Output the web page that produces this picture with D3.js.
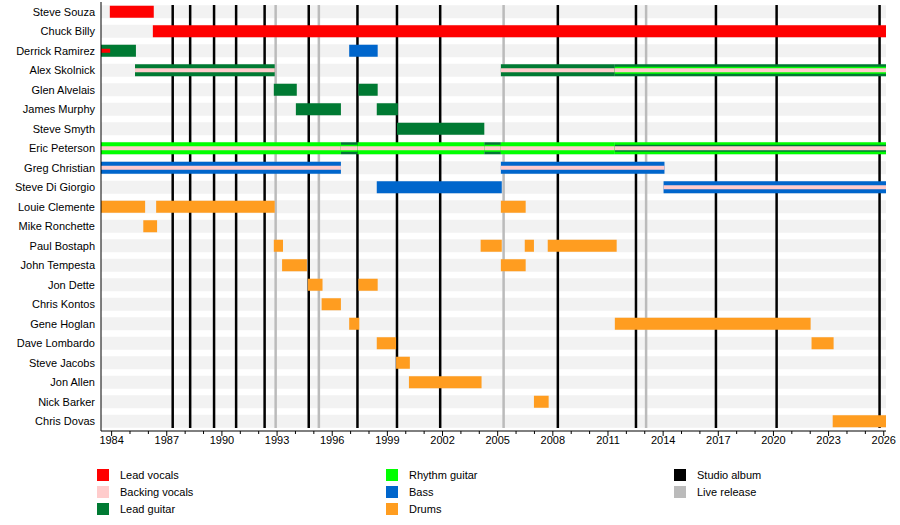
<!DOCTYPE html>
<html><head><meta charset="utf-8">
<script src="https://cdn.jsdelivr.net/npm/d3@7/dist/d3.min.js"></script>
<style>body{margin:0;background:#fff}svg{font-family:"Liberation Sans",Arial,sans-serif}</style>
</head><body><svg id="c" width="900" height="525"></svg>
<script>
const members = ["Steve Souza","Chuck Billy","Derrick Ramirez","Alex Skolnick","Glen Alvelais","James Murphy","Steve Smyth","Eric Peterson","Greg Christian","Steve Di Giorgio","Louie Clemente","Mike Ronchette","Paul Bostaph","John Tempesta","Jon Dette","Chris Kontos","Gene Hoglan","Dave Lombardo","Steve Jacobs","Jon Allen","Nick Barker","Chris Dovas"];
const END = 2026.15;
// [member, start, end, outerRole, midRole, centerRole]
const spans = [
 ["Steve Souza",1983.93,1986.32,"lv",null,null],
 ["Chuck Billy",1986.27,END,"lv",null,null],
 ["Derrick Ramirez",1983.45,1985.35,"lg",null,"lv"],
 ["Derrick Ramirez",1996.95,1998.5,"bass",null,null],
 ["Alex Skolnick",1985.3,1992.9,"lg",null,"bv"],
 ["Alex Skolnick",2005.2,2011.4,"lg",null,"bv"],
 ["Alex Skolnick",2011.4,END,"lg","rg","bv"],
 ["Glen Alvelais",1992.85,1994.1,"lg",null,null],
 ["Glen Alvelais",1997.45,1998.5,"lg",null,null],
 ["James Murphy",1994.05,1996.5,"lg",null,null],
 ["James Murphy",1998.45,1999.6,"lg",null,null],
 ["Steve Smyth",1999.55,2004.3,"lg",null,null],
 ["Eric Peterson",1983.45,1996.5,"rg",null,"bv"],
 ["Eric Peterson",1996.5,1997.4,"lg","rg","bv"],
 ["Eric Peterson",1997.4,2004.3,"rg",null,"bv"],
 ["Eric Peterson",2004.3,2005.2,"lg","rg","bv"],
 ["Eric Peterson",2005.2,2011.4,"rg",null,"bv"],
 ["Eric Peterson",2011.4,END,"rg","lg","bv"],
 ["Greg Christian",1983.45,1996.5,"bass",null,"bv"],
 ["Greg Christian",2005.2,2014.1,"bass",null,"bv"],
 ["Steve Di Giorgio",1998.45,2005.25,"bass",null,null],
 ["Steve Di Giorgio",2014.05,END,"bass",null,"bv"],
 ["Louie Clemente",1983.45,1985.85,"dr",null,null],
 ["Louie Clemente",1986.45,1992.9,"dr",null,null],
 ["Louie Clemente",2005.2,2006.55,"dr",null,null],
 ["Mike Ronchette",1985.75,1986.5,"dr",null,null],
 ["Paul Bostaph",1992.85,1993.35,"dr",null,null],
 ["Paul Bostaph",2004.1,2005.25,"dr",null,null],
 ["Paul Bostaph",2006.5,2007.0,"dr",null,null],
 ["Paul Bostaph",2007.75,2011.5,"dr",null,null],
 ["John Tempesta",1993.3,1994.65,"dr",null,null],
 ["John Tempesta",2005.2,2006.55,"dr",null,null],
 ["Jon Dette",1994.7,1995.5,"dr",null,null],
 ["Jon Dette",1997.45,1998.5,"dr",null,null],
 ["Chris Kontos",1995.45,1996.5,"dr",null,null],
 ["Gene Hoglan",1996.95,1997.5,"dr",null,null],
 ["Gene Hoglan",2011.4,2022.05,"dr",null,null],
 ["Dave Lombardo",1998.45,1999.5,"dr",null,null],
 ["Dave Lombardo",2022.1,2023.3,"dr",null,null],
 ["Steve Jacobs",1999.5,2000.25,"dr",null,null],
 ["Jon Allen",2000.2,2004.15,"dr",null,null],
 ["Nick Barker",2007.0,2007.8,"dr",null,null],
 ["Chris Dovas",2023.25,END,"dr",null,null]
];
const studioAlbums = [1987.35,1988.3,1989.6,1990.8,1992.35,1994.75,1997.4,1999.55,2001.9,2008.3,2012.55,2016.9,2020.2,2025.8];
const liveReleases = [1992.95,1995.3,2005.35,2013.1];
const tickYears = d3.range(1984,2027,3);
const roles = [["lv","Lead vocals","#ff0000"],["bv","Backing vocals","#ffcccc"],["lg","Lead guitar","#007a33"],["rg","Rhythm guitar","#00ff00"],["bass","Bass","#0066cc"],["dr","Drums","#ff9d20"],["studio","Studio album","#000000"],["live","Live release","#bbbbbb"]];
const col = Object.fromEntries(roles.map(r=>[r[0],r[2]]));

const svg = d3.select("#c");
const x = d3.scaleLinear().domain([1983.45,END]).range([101,886]);
const y = d3.scaleBand().domain(members).range([2,431]).paddingInner(0);
const cy = m => y(m)+y.bandwidth()/2;

// row stripes
svg.append("g").selectAll("rect").data(members).join("rect")
 .attr("x",101).attr("width",785).attr("y",m=>cy(m)-6.5).attr("height",13).attr("fill","#f2f2f2");

// release lines
svg.append("g").selectAll("line").data(liveReleases).join("line")
 .attr("x1",x).attr("x2",x).attr("y1",5).attr("y2",428).attr("stroke","#bbbbbb").attr("stroke-width",2.5);
svg.append("g").selectAll("line").data(studioAlbums).join("line")
 .attr("x1",x).attr("x2",x).attr("y1",5).attr("y2",428).attr("stroke","#000").attr("stroke-width",2.5);

// bars
const g = svg.append("g");
spans.forEach(([m,s,e,o,mid,c])=>{
  const yc = cy(m);
  g.append("rect").attr("x",x(s)).attr("width",x(e)-x(s)).attr("y",yc-6).attr("height",12).attr("fill",col[o]);
  if(mid) g.append("rect").attr("x",x(s)).attr("width",x(e)-x(s)).attr("y",yc-3.5).attr("height",7).attr("fill",col[mid]);
  if(c){
    if(m==="Derrick Ramirez") g.append("rect").attr("x",x(s)).attr("width",x(1983.95)-x(s)).attr("y",yc-2).attr("height",4).attr("fill",col[c]);
    else g.append("rect").attr("x",x(s)).attr("width",x(e)-x(s)).attr("y",yc-2).attr("height",4).attr("fill",col[c]);
  }
});

// axes
svg.append("line").attr("x1",101).attr("x2",101).attr("y1",2).attr("y2",431).attr("stroke","#000");
svg.append("line").attr("x1",101).attr("x2",886).attr("y1",431).attr("y2",431).attr("stroke","#000");
const ax = svg.append("g").attr("transform","translate(0,431)")
 .call(d3.axisBottom(x).tickValues(d3.range(1984,2027)).tickSize(3).tickFormat(d=>tickYears.includes(d)?d:""));
ax.select(".domain").remove();
ax.selectAll(".tick line").attr("stroke","#000").attr("y2",d=>tickYears.includes(d)?5:3);
ax.selectAll("text").attr("font-size",11).attr("dy","0.6em").attr("fill","#000").attr("font-family","Liberation Sans, Arial");
svg.append("g").selectAll("text").data(members).join("text")
 .attr("x",95).attr("y",m=>cy(m)).attr("dy","0.35em").attr("text-anchor","end").attr("font-size",11).text(m=>m);

// legend
const leg = svg.append("g");
roles.forEach((r,i)=>{
  const cx = [97,386,674][Math.floor(i/3)], ly = 469 + (i%3)*17;
  leg.append("rect").attr("x",cx).attr("y",ly).attr("width",12).attr("height",12).attr("fill",r[2]);
  leg.append("text").attr("x",cx+23).attr("y",ly+6).attr("dy","0.35em").attr("font-size",11).text(r[1]);
});
</script></body></html>
